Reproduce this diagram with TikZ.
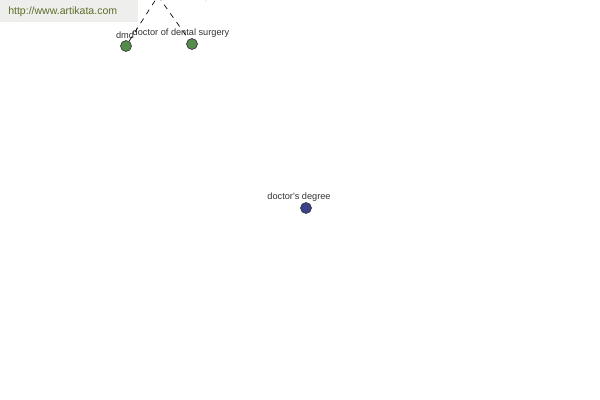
\documentclass[tikz,border=0pt]{standalone}
\usepackage{fontspec}
\setmainfont{Liberation Sans}
\usetikzlibrary{positioning}

\definecolor{termgreen}{RGB}{84,140,76}
\definecolor{termblue}{RGB}{58,64,140}
\definecolor{urlgreen}{RGB}{90,110,40}
\definecolor{boxgray}{RGB}{238,238,236}

\begin{document}
\begin{tikzpicture}[x=0.75pt,y=-0.75pt,
    term/.style={circle, draw=black!80, line width=0.5pt, inner sep=0pt, minimum size=8.2pt},
    sense/.style={term, fill=termgreen},
    root/.style={term, fill=termblue},
    lbl/.style={font=\fontsize{6.9}{8}\selectfont, text=black!80, inner sep=0pt},
    link/.style={draw=black, dashed, dash pattern=on 4pt off 4pt, line width=0.5pt}]

    \useasboundingbox (0,0) rectangle (600,400);

    \fill[boxgray] (0,0) rectangle (138,22);
    \node[anchor=west, text=urlgreen, font=\fontsize{7.9}{10}\selectfont, inner sep=0pt] (url) at (8,12) {http://www.artikata.com};

    \coordinate (top) at (158,-4);
    \coordinate (off) at (200,-8);
    \coordinate (offend) at (206,1);

    \node[sense] (dmd) at (126,46) {};
    \node[sense] (dds) at (192,44) {};
    \node[root] (deg) at (306,208) {};

    \node[lbl] (dmdlbl) at (125,35) {dmd};
    \node[lbl] (ddslbl) at (181,33) {doctor of dental surgery};
    \node[lbl] (deglbl) at (299,197) {doctor\textquotesingle s degree};

    \draw[link] (dmd) -- (top);
    \draw[link] (top) -- (dds);
    \draw[link] (off) -- (offend);
\end{tikzpicture}
\end{document}
